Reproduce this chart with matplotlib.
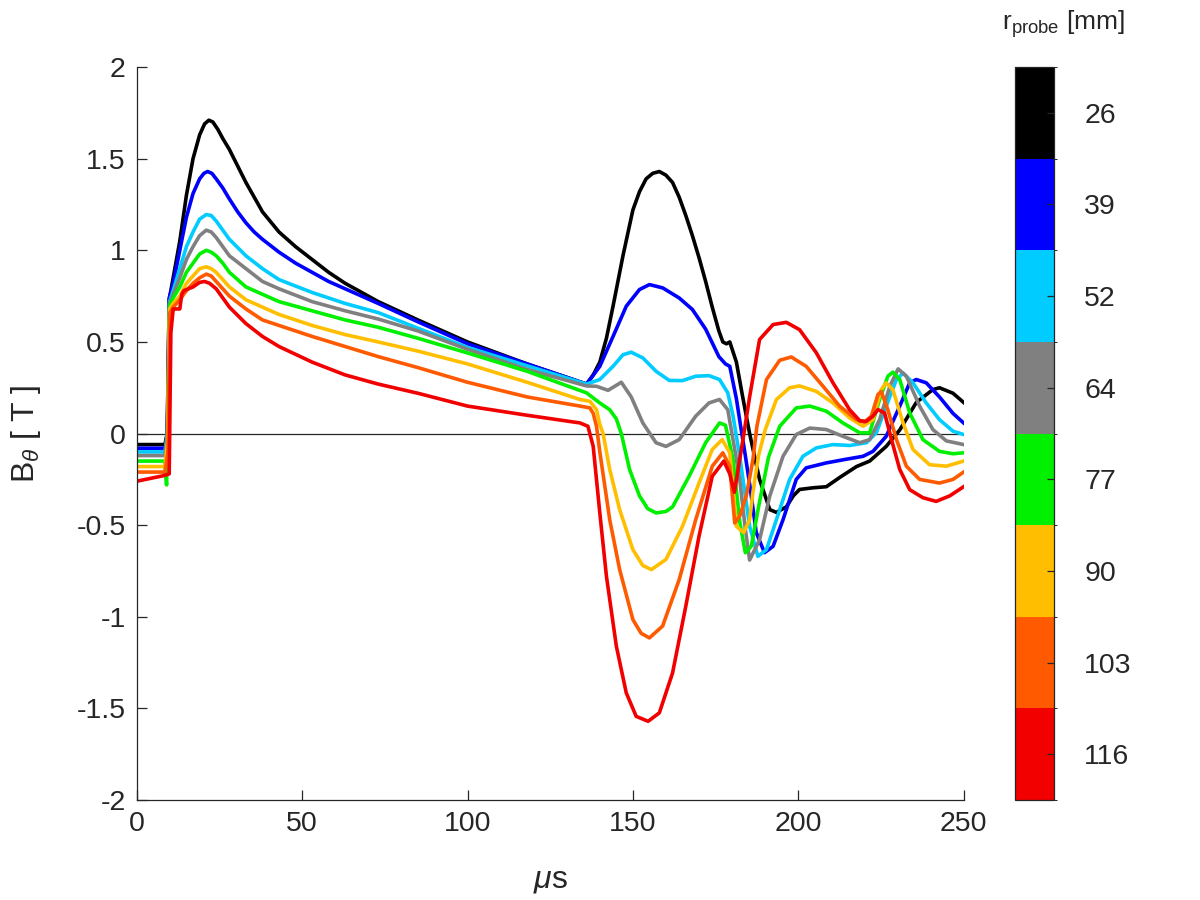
import matplotlib
matplotlib.use("Agg")
import matplotlib.pyplot as plt
from matplotlib.colors import ListedColormap, BoundaryNorm
from matplotlib.cm import ScalarMappable

plt.rcParams['font.family'] = ['Liberation Sans', 'DejaVu Sans']
plt.rcParams['mathtext.fontset'] = 'custom'
plt.rcParams['mathtext.rm'] = 'Liberation Sans'
plt.rcParams['mathtext.it'] = 'Liberation Sans:italic'

# probe radii [mm] and line colours
radii = [26, 39, 52, 64, 77, 90, 103, 116]
colors = ['#000000', '#0000ff', '#00ccff', '#808080',
          '#00f000', '#ffbf00', '#ff5a00', '#f20000']

# B_theta [T] vs time [us], one pair of lists per probe
t_26 = [0, 8.5, 9.2, 9.8, 11, 13, 15, 17, 19, 20.5, 21.8, 23, 24.5, 26, 28, 30.5, 33, 35.5, 38, 43, 48, 53,
        58, 63, 73, 85, 100, 118, 136,
        138, 140, 142, 144, 147, 150, 152, 154, 156, 158, 160, 162, 164, 166, 168, 170, 172, 174, 176,
        177.2, 178.3, 179.3, 181.3, 183, 184.3, 185.3, 188.3, 191.4, 193.4, 196.4, 198.5, 200.4, 204.4,
        208.5, 212.5, 217.6, 221.6, 226.6, 230.7, 235.7, 240.7, 242.7, 246.8, 250]
b_26 = [-0.06, -0.06, 0.0, 0.73, 0.85, 1.05, 1.30, 1.50, 1.63, 1.69, 1.71, 1.70, 1.66, 1.61, 1.55, 1.46,
        1.37, 1.29, 1.21, 1.10, 1.02, 0.95, 0.88, 0.82, 0.72, 0.62, 0.50, 0.38, 0.27,
        0.32, 0.39, 0.52, 0.695, 0.97, 1.22, 1.32, 1.39, 1.42, 1.43, 1.41, 1.37, 1.29, 1.19, 1.08, 0.96,
        0.83, 0.69, 0.56, 0.50, 0.49, 0.50, 0.39, 0.22, 0.095, 0.0, -0.25, -0.415, -0.43, -0.40, -0.34,
        -0.305, -0.296, -0.29, -0.24, -0.18, -0.15, -0.07, 0.02, 0.17, 0.24, 0.25, 0.22, 0.17]

t_39 = [0, 8.5, 9.2, 9.8, 11, 13, 15, 17, 19, 20.3, 21.4, 22.7, 24, 26, 28, 30.5, 33, 35.5, 38, 43, 48, 53,
        58, 63, 73, 85, 100, 118, 136,
        140, 144, 148, 152, 155, 159, 164, 168, 172, 176, 178, 179.3, 181.3, 182.5, 184, 185.5, 187.3,
        189.8, 192.4, 195.4, 199.4, 202.4, 208.5, 214.5, 219.6, 222.6, 226.6, 230.7, 233.7, 235.7,
        238.7, 242.7, 246.8, 250]
b_39 = [-0.08, -0.08, 0.0, 0.74, 0.82, 1.00, 1.18, 1.31, 1.39, 1.42, 1.43, 1.42, 1.39, 1.34, 1.28, 1.21,
        1.15, 1.10, 1.06, 0.99, 0.93, 0.88, 0.83, 0.79, 0.71, 0.61, 0.49, 0.38, 0.27,
        0.367, 0.53, 0.695, 0.786, 0.813, 0.795, 0.74, 0.677, 0.57, 0.42, 0.38, 0.367, 0.19, 0.05, -0.12,
        -0.30, -0.54, -0.65, -0.615, -0.47, -0.25, -0.187, -0.16, -0.14, -0.124, -0.097, -0.015, 0.15,
        0.277, 0.295, 0.277, 0.20, 0.11, 0.058]

t_52 = [0, 8.5, 9.3, 9.9, 11, 13, 15, 17, 19, 21, 22.5, 24, 26, 28, 33, 38, 43, 53, 63, 73, 85, 100, 118, 136,
        140, 144, 147, 149.5, 153, 157, 161, 165, 169, 173, 176.2, 178.7, 180.3, 182.3, 185.3, 187.8,
        190.4, 193.4, 197.4, 201.4, 205.5, 210.5, 215.5, 220.6, 223.6, 226.6, 229.7, 231.7, 234.7,
        238.7, 242.7, 246.8, 250]
b_52 = [-0.10, -0.10, 0.0, 0.72, 0.78, 0.90, 1.02, 1.10, 1.17, 1.195, 1.19, 1.16, 1.11, 1.06, 0.97, 0.90,
        0.84, 0.77, 0.71, 0.66, 0.575, 0.47, 0.37, 0.27,
        0.295, 0.367, 0.43, 0.444, 0.413, 0.34, 0.29, 0.289, 0.313, 0.316, 0.295, 0.222, 0.095, -0.124,
        -0.506, -0.67, -0.633, -0.47, -0.25, -0.124, -0.078, -0.06, -0.065, -0.05, 0.004, 0.15, 0.295,
        0.33, 0.277, 0.167, 0.076, 0.013, -0.005]

t_64 = [0, 8.5, 9.3, 9.9, 11, 13, 15, 17, 19, 21, 22.5, 24, 26, 28, 33, 38, 43, 53, 63, 73, 85, 100, 118, 136,
        139, 142.5, 146.5, 149.5, 153, 157, 160, 164, 169, 173, 176.2, 178.7, 180.8, 182.3, 184, 185.3,
        188.3, 191.4, 195.4, 199.4, 203.5, 208.5, 213.5, 218.6, 221.6, 224.6, 227.7, 230.2, 232.7,
        236.7, 240.7, 244.8, 250]
b_64 = [-0.12, -0.12, 0.0, 0.71, 0.76, 0.85, 0.95, 1.02, 1.08, 1.11, 1.10, 1.07, 1.02, 0.97, 0.90, 0.83,
        0.79, 0.72, 0.67, 0.625, 0.56, 0.46, 0.35, 0.26,
        0.258, 0.236, 0.28, 0.20, 0.058, -0.05, -0.07, -0.033, 0.095, 0.167, 0.186, 0.13, -0.087, -0.25,
        -0.52, -0.69, -0.58, -0.34, -0.124, -0.005, 0.03, 0.022, -0.015, -0.05, -0.033, 0.076, 0.258,
        0.353, 0.313, 0.15, 0.022, -0.04, -0.06]

t_77 = [0, 8.5, 9.0, 9.3, 9.9, 11, 13, 15, 17, 19, 21, 22.5, 24, 26, 28, 33, 38, 43, 53, 63, 73, 85, 100,
        118, 136,
        140, 143, 145, 146.5, 149, 152, 154.5, 157, 160, 162, 167, 172, 176.2, 178, 180.3, 182.3, 184,
        185.8, 188, 191, 194.4, 199.4, 203.5, 208.5, 213.5, 218.6, 221.6, 224.6, 227.1, 228.6, 230.7,
        233.7, 237.7, 242.7, 246.8, 250]
b_77 = [-0.15, -0.15, -0.28, 0.0, 0.70, 0.74, 0.80, 0.88, 0.93, 0.98, 1.00, 0.99, 0.97, 0.93, 0.88, 0.80,
        0.76, 0.72, 0.67, 0.62, 0.58, 0.52, 0.44, 0.34, 0.222,
        0.167, 0.13, 0.08, 0.0, -0.196, -0.34, -0.41, -0.433, -0.425, -0.40, -0.233, -0.05, 0.058, 0.045,
        -0.142, -0.48, -0.65, -0.615, -0.40, -0.13, 0.04, 0.14, 0.15, 0.122, 0.058, 0.004, 0.004, 0.186,
        0.313, 0.335, 0.295, 0.113, -0.033, -0.097, -0.11, -0.105]

t_90 = [0, 8.5, 9.3, 9.9, 11, 13, 15, 17, 19, 21, 22.5, 24, 26, 28, 33, 38, 43, 53, 63, 73, 85, 100, 118, 134,
        137, 139, 140, 141, 143, 146, 150, 153, 155.6, 160, 165, 170, 174, 177, 179.3, 181.3, 183.5,
        185.3, 186.3, 188, 190, 193.4, 197.4, 200.4, 205.5, 210.5, 215.5, 219.6, 222.6, 225.1, 226.6,
        228.6, 231.7, 234.7, 239.7, 244.8, 250]
b_90 = [-0.18, -0.18, -0.05, 0.68, 0.71, 0.75, 0.82, 0.86, 0.90, 0.91, 0.90, 0.88, 0.84, 0.80, 0.73, 0.69,
        0.65, 0.59, 0.54, 0.50, 0.45, 0.38, 0.28, 0.186,
        0.176, 0.13, 0.05, 0.0, -0.196, -0.415, -0.633, -0.72, -0.742, -0.687, -0.506, -0.27, -0.087,
        -0.033, -0.105, -0.506, -0.54, -0.47, -0.32, -0.12, 0.02, 0.186, 0.25, 0.26, 0.23, 0.167, 0.086,
        0.04, 0.076, 0.24, 0.277, 0.24, 0.058, -0.087, -0.17, -0.178, -0.15]

t_103 = [0, 8.5, 9.4, 10.0, 11, 13, 15, 17, 19, 21, 22.5, 24, 26, 28, 33, 38, 43, 53, 63, 73, 85, 100, 118,
         134,
         137, 138, 139, 140, 143, 146, 150, 152.5, 155, 159, 164, 169, 174, 177.2, 179.3, 180.8, 182.3,
         184.3, 186.3, 187.5, 190.4, 194.4, 197.9, 202.4, 207.5, 212.5, 217.6, 220, 222.1, 224.1, 225.1,
         227.1, 229.7, 232.7, 236.7, 242.7, 246.8, 250]
b_103 = [-0.21, -0.21, -0.1, 0.66, 0.69, 0.73, 0.78, 0.82, 0.85, 0.87, 0.86, 0.83, 0.79, 0.75, 0.68, 0.62,
         0.59, 0.53, 0.475, 0.42, 0.36, 0.28, 0.20, 0.15,
         0.14, 0.11, 0.04, -0.10, -0.47, -0.742, -1.015, -1.09, -1.115, -1.05, -0.797, -0.47, -0.178,
         -0.105, -0.178, -0.488, -0.45, -0.34, -0.142, 0.04, 0.295, 0.40, 0.418, 0.367, 0.258, 0.15,
         0.076, 0.062, 0.095, 0.213, 0.23, 0.13, -0.033, -0.178, -0.25, -0.27, -0.25, -0.21]

t_116 = [0, 8, 9.8, 10.3, 11, 13, 13.6, 14.2, 17, 19, 20.5, 22, 24, 26, 28, 30.5, 33, 38, 43, 53, 63, 73, 85,
         100, 118, 134,
         136.4, 138, 140, 142, 145, 148, 151, 154.6, 158, 162, 166, 170, 174, 177.5, 179.3, 180.7, 183.3,
         185.3, 188.3, 192.4, 196.4, 200.4, 205.5, 210.5, 215.5, 218.6, 220.6, 222.6, 224.1, 226.1,
         228.2, 230.7, 233.7, 237.7, 241.7, 245.8, 250]
b_116 = [-0.26, -0.23, -0.22, 0.55, 0.68, 0.68, 0.76, 0.78, 0.80, 0.825, 0.83, 0.82, 0.79, 0.74, 0.69, 0.645,
         0.60, 0.53, 0.475, 0.39, 0.32, 0.27, 0.22, 0.15, 0.10, 0.058,
         0.04, -0.07, -0.433, -0.778, -1.16, -1.415, -1.543, -1.57, -1.524, -1.306, -0.942, -0.56, -0.233,
         -0.15, -0.22, -0.32, -0.03, 0.2, 0.513, 0.595, 0.607, 0.567, 0.44, 0.277, 0.131, 0.07, 0.067,
         0.095, 0.131, 0.113, -0.033, -0.196, -0.306, -0.35, -0.37, -0.34, -0.29]

series = [(t_26, b_26), (t_39, b_39), (t_52, b_52), (t_64, b_64),
          (t_77, b_77), (t_90, b_90), (t_103, b_103), (t_116, b_116)]

yticks = [-2, -1.5, -1, -0.5, 0, 0.5, 1, 1.5, 2]
ytick_labels = ['-2', '-1.5', '-1', '-0.5', '0', '0.5', '1', '1.5', '2']
xticks = [0, 50, 100, 150, 200, 250]

axis_color = '#262626'
fs = 20.5
fs_label = 23

fig = plt.figure(figsize=(12, 9), dpi=100)
ax = fig.add_axes([0.114, 0.111, 0.689, 0.8145])

ax.axhline(0, color=axis_color, lw=0.9, zorder=1)
for (t, b), c in zip(series, colors):
    ax.plot(t, b, color=c, lw=2.6, zorder=2, solid_joinstyle='round')

ax.set_xlim(0, 250)
ax.set_ylim(-2, 2)
ax.set_xticks(xticks)
ax.set_yticks(yticks)
ax.set_yticklabels(ytick_labels)
ax.tick_params(direction='in', length=7, width=0.9, colors=axis_color, labelsize=fs, pad=8)
for s in ['top', 'right']:
    ax.spines[s].set_visible(False)
for s in ['left', 'bottom']:
    ax.spines[s].set_color(axis_color)
    ax.spines[s].set_linewidth(0.9)

ax.set_xlabel(r'$\mu$s', fontsize=fs_label, color=axis_color)
ax.set_ylabel(r'B$_\theta$ [ T ]', fontsize=fs_label, color=axis_color)
ax.xaxis.set_label_coords(0.5, -0.088)
ax.yaxis.set_label_coords(-0.114, 0.5)

# discrete colour bar, red at the bottom
cax = fig.add_axes([0.846, 0.111, 0.032, 0.8145])
cmap = ListedColormap(colors[::-1])
norm = BoundaryNorm(list(range(len(colors) + 1)), cmap.N)
cb = fig.colorbar(ScalarMappable(norm=norm, cmap=cmap), cax=cax)
cb.set_ticks([i + 0.5 for i in range(len(radii))])
cb.set_ticklabels([str(r) for r in radii[::-1]])
cb.ax.tick_params(direction='in', length=5, width=0.9, colors=axis_color, labelsize=fs, pad=22)
cb.outline.set_edgecolor(axis_color)
cb.outline.set_linewidth(0.9)

fig.text(1064 / 1200, 1 - 24 / 900, r'r$_{\mathrm{probe}}$ [mm]', fontsize=19, color=axis_color,
         ha='center', va='center')

fig.savefig('out.png', dpi=100)
